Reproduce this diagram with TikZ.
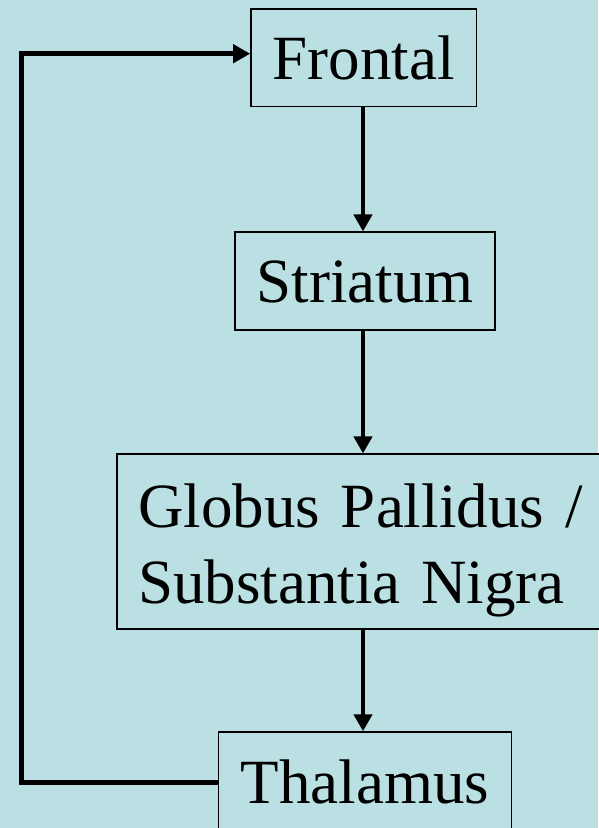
\documentclass[tikz,border=0pt]{standalone}
\usepackage{fontspec}
\setmainfont{Liberation Serif}
\usetikzlibrary{arrows.meta}
\definecolor{bgcyan}{RGB}{186,224,227}
\tikzset{
  area/.style={draw=black, line width=1.5pt, fill=bgcyan, inner sep=0pt,
    font=\fontsize{63}{76}\selectfont, text height=43pt, text depth=0pt},
  flow/.style={line width=4.5pt, -{Triangle[width=18pt,length=17pt]}},
  loopback/.style={line width=5pt, -{Triangle[width=18pt,length=17pt]}}
}
\begin{document}
\begin{tikzpicture}[x=1pt,y=-1pt]
  % canvas
  \fill[bgcyan] (0,0) rectangle (598,828);
  \useasboundingbox (0,0) rectangle (598,828);

  % stations of the loop
  \node[area, minimum width=225.7pt, minimum height=97.7pt] (frontal) at (363.8,57.8) {Frontal};
  \node[area, minimum width=260pt, minimum height=98pt] (striatum) at (365,281.2) {Striatum};
  \node[area, minimum width=492pt, minimum height=175pt, text width=450pt, align=left,
        inner xsep=21pt, text height=43pt, text depth=72.4pt] (gp) at (363,541.7)
        {Globus Pallidus /\\Substantia Nigra};
  \node[area, minimum width=293pt, minimum height=100pt] (thalamus) at (365,782) {Thalamus};

  % main descending axis and loop corner
  \coordinate (axis) at (363,0);
  \coordinate (loop) at (21,53.7);

  \draw[flow] (frontal.south -| axis) -- (striatum.north -| axis);
  \draw[flow] (striatum.south -| axis) -- (gp.north -| axis);
  \draw[flow] (gp.south -| axis) -- (thalamus.north -| axis);

  % feedback from thalamus back to frontal cortex
  \draw[loopback] (thalamus.west) -| (loop) -- (loop -| frontal.west);
\end{tikzpicture}
\end{document}
